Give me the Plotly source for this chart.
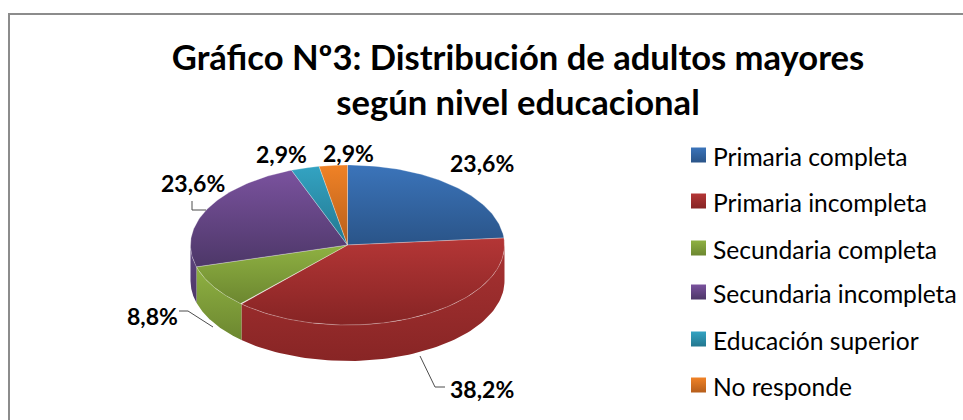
import numpy as np
import plotly.graph_objects as go

title_lines = ["Gráfico Nº3: Distribución de adultos mayores", "según nivel educacional"]
categories = ["Primaria completa", "Primaria incompleta", "Secundaria completa",
              "Secundaria incompleta", "Educación superior", "No responde"]
values = [23.6, 38.2, 8.8, 23.6, 2.9, 2.9]
labels = ["23,6%", "38,2%", "8,8%", "23,6%", "2,9%", "2,9%"]

# gradient colours per slice: top, bottom
top_colors = ["#3B74BA", "#B43636", "#8FB142", "#7A529E", "#33A3C2", "#F08226"]
bottom_colors = ["#2A5488", "#862424", "#6C8730", "#4D3768", "#23778F", "#B65E1B"]
wall_top_colors = ["#2A5488", "#A83232", "#8FB142", "#5E4480", "#23778F", "#B65E1B"]
wall_bottom_colors = ["#2A5488", "#882525", "#6C8730", "#4D3768", "#23778F", "#B65E1B"]

# pie geometry on a pixel-like axis
cx, cy, rx, ry, depth = 347.5, 245, 157, 80, 36
label_pos = [(482, 163), (482, 389), (152, 316), (193, 183), (281, 154), (348, 153)]
leaders = {1: [(420, 356), (435, 387), (445, 387)],
           2: [(179, 311), (188, 311), (213, 327)],
           3: [(206, 210), (192, 210), (192, 201)]}
legend_y = [156, 202, 249, 293, 340, 386]

BODY_FONT = "Lato"


def rim(a0, a1):
    # points along the top ellipse, angles clockwise from 12 o'clock
    ang = np.radians(np.linspace(a0, a1, 80))
    return cx + rx * np.sin(ang), cy - ry * np.cos(ang)


fig = go.Figure()
edges = np.concatenate([[0], np.cumsum(values)]) / sum(values) * 360

# side walls first, only the front half shows
for i in range(len(values)):
    a0, a1 = max(edges[i], 90), min(edges[i + 1], 270)
    if a1 <= a0:
        continue
    x, y = rim(a0, a1)
    fig.add_trace(go.Scatter(
        x=np.concatenate([x, x[::-1]]),
        y=np.concatenate([y, y[::-1] + depth]),
        mode="lines", line=dict(width=0), fill="toself",
        fillgradient=dict(type="vertical",
                          colorscale=[[0, wall_bottom_colors[i]], [1, wall_top_colors[i]]]),
        hoverinfo="skip", showlegend=False,
    ))

# top faces
for i in range(len(values)):
    x, y = rim(edges[i], edges[i + 1])
    fig.add_trace(go.Scatter(
        x=np.concatenate([[cx], x, [cx]]),
        y=np.concatenate([[cy], y, [cy]]),
        mode="lines", line=dict(width=0.6, color="rgba(255,255,255,0.45)"), fill="toself",
        fillgradient=dict(type="vertical",
                          colorscale=[[0, bottom_colors[i]], [1, top_colors[i]]]),
        hoverinfo="skip", showlegend=False,
    ))

# leader lines
for pts in leaders.values():
    fig.add_trace(go.Scatter(
        x=[p[0] for p in pts], y=[p[1] for p in pts], mode="lines",
        line=dict(color="#4d4d4d", width=1), hoverinfo="skip", showlegend=False,
    ))

# legend swatches
for i, name in enumerate(categories):
    fig.add_trace(go.Scatter(
        x=[698.5], y=[legend_y[i] - 1], mode="markers",
        marker=dict(symbol="square", size=15, color=top_colors[i], line=dict(width=0),
                    gradient=dict(type="vertical", color=bottom_colors[i])),
        hoverinfo="skip", showlegend=False,
    ))

annotations = []
for i, text in enumerate(labels):
    annotations.append(dict(x=label_pos[i][0], y=label_pos[i][1], text="<b>%s</b>" % text,
                            showarrow=False, font=dict(family=BODY_FONT, size=23, color="#000000")))
for i, name in enumerate(categories):
    annotations.append(dict(x=711, y=legend_y[i], text=name, xanchor="left", showarrow=False,
                            font=dict(family=BODY_FONT, size=24.6, color="#000000")))

fig.update_layout(
    width=963, height=420,
    margin=dict(l=0, r=0, t=0, b=0),
    paper_bgcolor="#ffffff", plot_bgcolor="#ffffff",
    showlegend=False,
    title=dict(text="<b>" + "<br>".join(title_lines) + "</b>",
               x=518 / 963, xanchor="center", y=1 - 70 / 420, yanchor="top",
               font=dict(family=BODY_FONT, size=34.6, color="#000000")),
    xaxis=dict(range=[0, 963], visible=False, fixedrange=True),
    yaxis=dict(range=[420, 0], visible=False, fixedrange=True),
    annotations=annotations,
    shapes=[dict(type="path", path="M 9 421 L 9 14 L 964 14", line=dict(color="#8c8c8c", width=2))],
)

# page margin would push the chart off the 963x420 window
fig.write_html("out.html", config=dict(displayModeBar=False),
               post_script="document.body.style.margin='0';document.body.style.overflow='hidden';")
